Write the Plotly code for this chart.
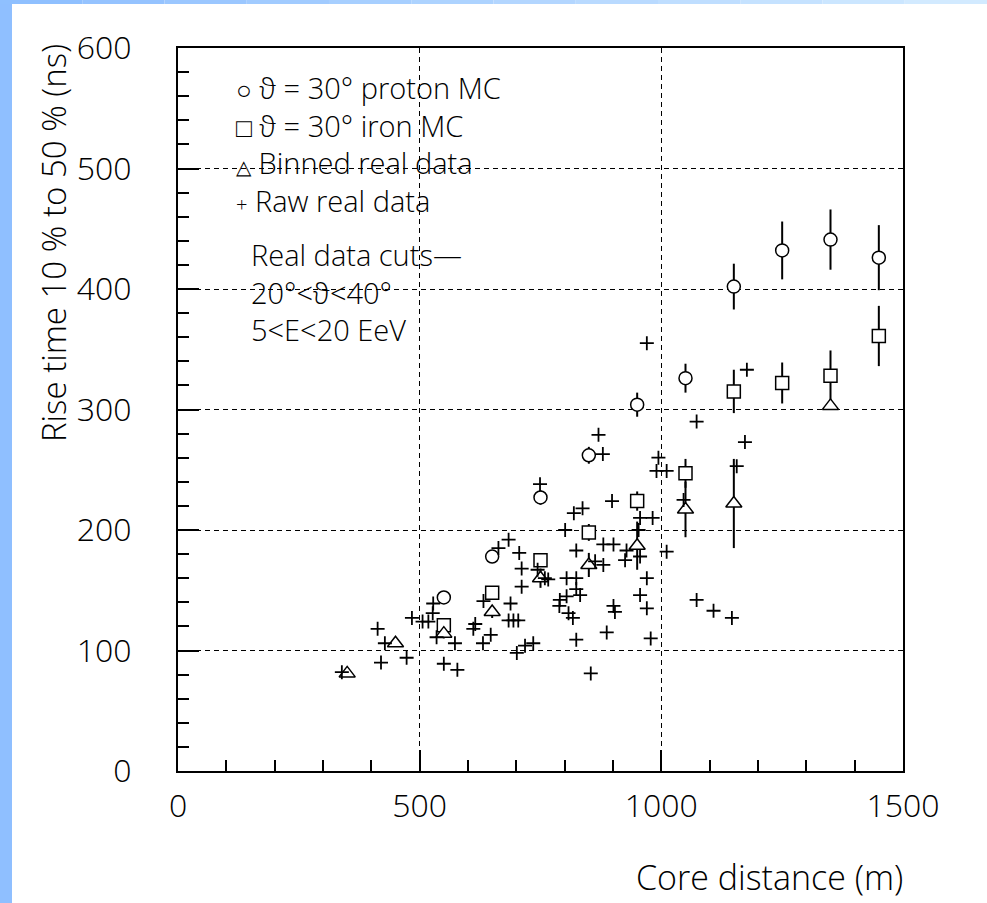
import plotly.graph_objects as go

# ---------------- data ----------------
mc_x = [550, 650, 750, 850, 950, 1050, 1150, 1250, 1350, 1450]
proton_rt = [144, 178, 227, 262, 304, 326, 402, 432, 441, 426]
proton_err = [3, 4, 6, 7, 10, 12, 19, 24, 25, 27]
iron_rt = [121, 148, 175, 198, 224, 247, 315, 322, 328, 361]
iron_err = [3, 4, 5, 7, 8, 12, 18, 17, 21, 25]

binned_x = [350, 450, 550, 650, 750, 850, 950, 1050, 1150, 1350]
binned_rt = [81, 106, 114, 132, 160, 171, 187, 217, 222, 303]
binned_err = [2, 3, 4, 5, 8, 10, 20, 23, 37, 3]

raw_x = [749, 898, 819, 837, 956, 982, 801, 684, 663, 706, 711, 711, 824, 880, 901,
         925, 956, 863, 880, 744, 766, 804, 824, 970, 824, 832, 804, 790, 789, 808,
         817, 956, 901, 904, 970, 887, 978, 824, 854, 632, 688, 684, 694, 704, 615,
         611, 647, 631, 701, 718, 735, 528, 527, 484, 506, 518, 535, 573, 550, 578,
         413, 428, 473, 420, 339, 970, 1177, 1073, 1173, 994, 1156, 990, 1011, 1011,
         1073, 1108, 1146, 870, 879, 1046, 928, 759, 953]
raw_rt = [238, 224, 214, 218, 210, 210, 200, 192, 185, 181, 168, 153, 183, 188, 188,
          175, 178, 174, 171, 167, 159, 160, 160, 160, 151, 146, 145, 142, 137, 131,
          127, 146, 137, 132, 135, 115, 110, 109, 81, 141, 139, 125, 125, 125, 122,
          118, 113, 106, 98, 104, 106, 139, 131, 127, 124, 124, 111, 106, 89, 84,
          118, 106, 94, 90, 82, 355, 333, 290, 273, 260, 253, 249, 249, 182,
          142, 133, 127, 279, 263, 225, 183, 160, 200]

x_ticks = [0, 500, 1000, 1500]
x_ticklabels = ["0", "500", "1000", "1500"]
y_ticks = [0, 100, 200, 300, 400, 500, 600]

legend_symbols = ["○", "□", "△", "+"]
legend_lines = ["ϑ = 30° proton MC", "ϑ = 30° iron MC", "Binned real data", "Raw real data"]
cut_lines = ["Real data cuts—", "20°&lt;ϑ&lt;40°", "5&lt;E&lt;20 EeV"]
x_title = "Core distance (m)"
y_title = "Rise time 10 % to 50 % (ns)"

# ---------------- layout geometry ----------------
W, H = 987, 903
L, R, T, B = 178, 84, 48, 132
PW, PH = W - L - R, H - T - B
FONT = "Open Sans, DejaVu Sans, sans-serif"
FW = 300


def px(xp):
    return (xp - L) / PW


def py(yp):
    return (H - B - yp) / PH


fig = go.Figure()

err_style = dict(type="data", width=0, thickness=2, color="black")

fig.add_trace(go.Scatter(
    x=mc_x, y=proton_rt, mode="markers",
    error_y=dict(array=proton_err, **err_style),
    marker=dict(symbol="circle", size=13, color="white", line=dict(color="black", width=1.5)),
    name="proton MC"))
fig.add_trace(go.Scatter(
    x=mc_x, y=iron_rt, mode="markers",
    error_y=dict(array=iron_err, **err_style),
    marker=dict(symbol="square", size=13, color="white", line=dict(color="black", width=1.5)),
    name="iron MC"))
fig.add_trace(go.Scatter(
    x=binned_x, y=binned_rt, mode="markers",
    error_y=dict(array=binned_err, **err_style),
    marker=dict(symbol="triangle-up", size=14, color="white", line=dict(color="black", width=1.5)),
    name="Binned real data"))
fig.add_trace(go.Scatter(
    x=raw_x, y=raw_rt, mode="markers",
    marker=dict(symbol="cross-thin", size=10, color="black", line=dict(color="black", width=1.8)),
    name="Raw real data"))

axis_common = dict(
    showline=True, linecolor="black", linewidth=2, mirror=True,
    ticks="inside", ticklen=21, tickwidth=1.5, tickcolor="black",
    showgrid=True, gridcolor="black", gridwidth=1.3, griddash="5px,4px",
    zeroline=False,
    tickfont=dict(family=FONT, size=32, color="black", weight=FW),
)

fig.update_xaxes(
    range=[0, 1500], tickvals=x_ticks, ticktext=x_ticklabels,
    minor=dict(dtick=100, ticks="inside", ticklen=11, tickwidth=1.5, tickcolor="black", showgrid=False),
    ticklabelstandoff=6,
    **axis_common)
fig.update_yaxes(
    range=[0, 600], tickvals=y_ticks,
    minor=dict(dtick=20, ticks="inside", ticklen=11, tickwidth=1.5, tickcolor="black", showgrid=False),
    ticklabelstandoff=38,
    **axis_common)

annotations = []
# axis titles
annotations.append(dict(text=x_title, xref="paper", yref="paper", x=px(905), y=py(877),
                        xanchor="right", yanchor="middle", showarrow=False,
                        font=dict(family=FONT, size=34, color="black", weight=FW)))
annotations.append(dict(text=y_title, xref="paper", yref="paper", x=px(53), y=py(42),
                        xanchor="center", yanchor="top", textangle=-90, showarrow=False,
                        font=dict(family=FONT, size=33, color="black", weight=FW)))

# legend block (symbols inline, one text block)
sym_sizes = [26, 26, 20, 20]
legend_text = "<br>".join(
    "<span style='font-size:%dpx'>%s</span> %s" % (ss, s, t)
    for s, ss, t in zip(legend_symbols, sym_sizes, legend_lines))
annotations.append(dict(text=legend_text, xref="paper", yref="paper", x=px(234), y=py(144),
                        xanchor="left", yanchor="middle", align="left", showarrow=False,
                        font=dict(family=FONT, size=29, color="black", weight=FW)))
annotations.append(dict(text="<br>".join(cut_lines), xref="paper", yref="paper",
                        x=px(249), y=py(292),
                        xanchor="left", yanchor="middle", align="left", showarrow=False,
                        font=dict(family=FONT, size=29, color="black", weight=FW)))

# slide background strips (blue)
shapes = [dict(type="rect", xref="paper", yref="paper", x0=px(0), x1=px(12), y0=py(H), y1=py(0),
               fillcolor="#8fbfff", line=dict(width=0), layer="below")]
n = 12
c0, c1 = (0x8f, 0xc0, 0xff), (0xd2, 0xea, 0xff)
for i in range(n):
    f = i / (n - 1)
    col = "rgb(%d,%d,%d)" % tuple(int(a + (b - a) * f) for a, b in zip(c0, c1))
    shapes.append(dict(type="rect", xref="paper", yref="paper",
                       x0=px(W * i / n), x1=px(W * (i + 1) / n), y0=py(4), y1=py(0),
                       fillcolor=col, line=dict(width=0), layer="below"))

fig.update_layout(
    width=W, height=H,
    margin=dict(l=L, r=R, t=T, b=B),
    paper_bgcolor="white", plot_bgcolor="white",
    showlegend=False, hovermode=False,
    annotations=annotations, shapes=shapes,
    font=dict(family=FONT, color="black"),
)

fig.write_html("out.html", config={"displayModeBar": False})
